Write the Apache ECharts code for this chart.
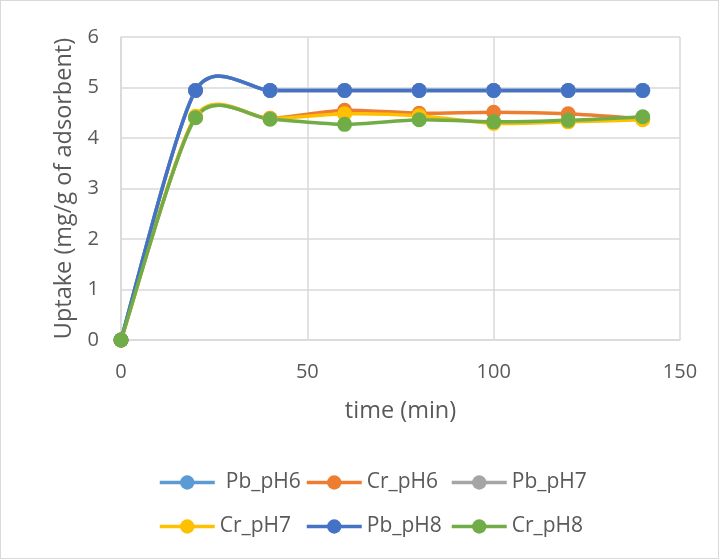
<!DOCTYPE html>
<html>
<head>
<meta charset="utf-8">
<script src="https://cdn.jsdelivr.net/npm/echarts@6/dist/echarts.min.js"></script>
<style>
  html, body { margin: 0; padding: 0; background: #fff; }
  #chart { width: 719px; height: 559px; box-sizing: border-box; border: 1px solid #d9d9d9; }
</style>
</head>
<body>
<div id="chart"></div>
<script>
// time (min)
const times = [0, 20, 40, 60, 80, 100, 120, 140]

// uptake values (mg/g of adsorbent)
const pbPH6 = [0, 4.94, 4.94, 4.94, 4.94, 4.94, 4.94, 4.94]
const crPH6 = [0, 4.41, 4.39, 4.55, 4.49, 4.51, 4.48, 4.38]
const pbPH7 = [0, 4.94, 4.94, 4.94, 4.94, 4.94, 4.94, 4.94]
const crPH7 = [0, 4.43, 4.38, 4.48, 4.44, 4.29, 4.32, 4.36]
const pbPH8 = [0, 4.94, 4.94, 4.94, 4.94, 4.94, 4.94, 4.94]
const crPH8 = [0, 4.40, 4.37, 4.27, 4.36, 4.32, 4.35, 4.42]

const seriesNames = ['Pb_pH6', 'Cr_pH6', 'Pb_pH7', 'Cr_pH7', 'Pb_pH8', 'Cr_pH8']
const seriesData = [pbPH6, crPH6, pbPH7, crPH7, pbPH8, crPH8]
const colors = ['#5B9BD5', '#ED7D31', '#A5A5A5', '#FFC000', '#4472C4', '#70AD47']

const FONT = 'Open Sans, sans-serif'
const TEXT = '#595959'
const K = 0.13 // smoothing tension, like the spreadsheet's smoothed line

const chart = echarts.init(document.getElementById('chart'), null, { renderer: 'canvas' })

// smoothed curve: one bezier per segment, control points from neighbours
function curveSeries(vals, color) {
  const n = times.length
  return {
    type: 'custom',
    name: '_curve',
    silent: true,
    data: times.map((t, j) => [t, vals[j]]),
    encode: { x: 0, y: 1 },
    renderItem(params, api) {
      const i = params.dataIndex
      if (i >= n - 1) return
      const p = i > 0 ? i - 1 : i
      const q = i + 2 < n ? i + 2 : i + 1
      const a = api.coord([times[i], vals[i]])
      const b = api.coord([times[i + 1], vals[i + 1]])
      const c1 = api.coord([times[i] + (times[i + 1] - times[p]) * K, vals[i] + (vals[i + 1] - vals[p]) * K])
      const c2 = api.coord([times[i + 1] - (times[q] - times[i]) * K, vals[i + 1] - (vals[q] - vals[i]) * K])
      return {
        type: 'bezierCurve',
        shape: { x1: a[0], y1: a[1], x2: b[0], y2: b[1], cpx1: c1[0], cpy1: c1[1], cpx2: c2[0], cpy2: c2[1] },
        style: { stroke: color, lineWidth: 3.5, fill: null }
      }
    }
  }
}

const series = []
seriesNames.forEach((name, i) => {
  series.push(curveSeries(seriesData[i], colors[i]))
  series.push({
    name: name,
    type: 'line',
    symbol: 'circle',
    symbolSize: 15,
    showAllSymbol: true,
    lineStyle: { opacity: 0, color: colors[i] },
    itemStyle: { color: colors[i] },
    data: times.map((t, j) => [t, seriesData[i][j]])
  })
})

// legend laid out as a 3 x 2 table
const legendCols = [157, 304, 449]
const legendRows = [471, 515]
const legends = seriesNames.map((name, i) => ({
  data: [name],
  left: legendCols[i % 3],
  top: legendRows[Math.floor(i / 3)],
  padding: 0,
  itemWidth: 55,
  itemHeight: 18,
  lineStyle: { opacity: 1, width: 3.5 },
  textStyle: { color: TEXT, fontSize: 21, fontFamily: FONT, padding: [0, 0, 0, i === 0 ? 6 : 0] }
}))

chart.setOption({
  animation: false,
  color: colors,
  grid: { left: 120, right: 38, top: 36, bottom: 218 },
  legend: legends,
  xAxis: {
    type: 'value',
    min: 0, max: 150, interval: 50,
    name: 'time (min)',
    nameLocation: 'middle',
    nameGap: 59,
    nameTextStyle: { color: TEXT, fontSize: 23.5, fontFamily: FONT },
    axisLine: { lineStyle: { color: '#d9d9d9', width: 1.5 } },
    axisTick: { show: false },
    axisLabel: { color: TEXT, fontSize: 20, margin: 22, fontFamily: FONT },
    splitLine: { show: true, lineStyle: { color: '#d9d9d9', width: 1.5 } }
  },
  yAxis: {
    type: 'value',
    min: 0, max: 6, interval: 1,
    name: 'Uptake (mg/g of adsorbent)',
    nameLocation: 'middle',
    nameGap: 44,
    nameTextStyle: { color: TEXT, fontSize: 23.5, fontFamily: FONT },
    axisLine: { show: true, lineStyle: { color: '#d9d9d9', width: 1.5 } },
    axisTick: { show: false },
    axisLabel: { color: TEXT, fontSize: 20, margin: 22, fontFamily: FONT },
    splitLine: { show: true, lineStyle: { color: '#d9d9d9', width: 1.5 } }
  },
  series: series
})
</script>
</body>
</html>
